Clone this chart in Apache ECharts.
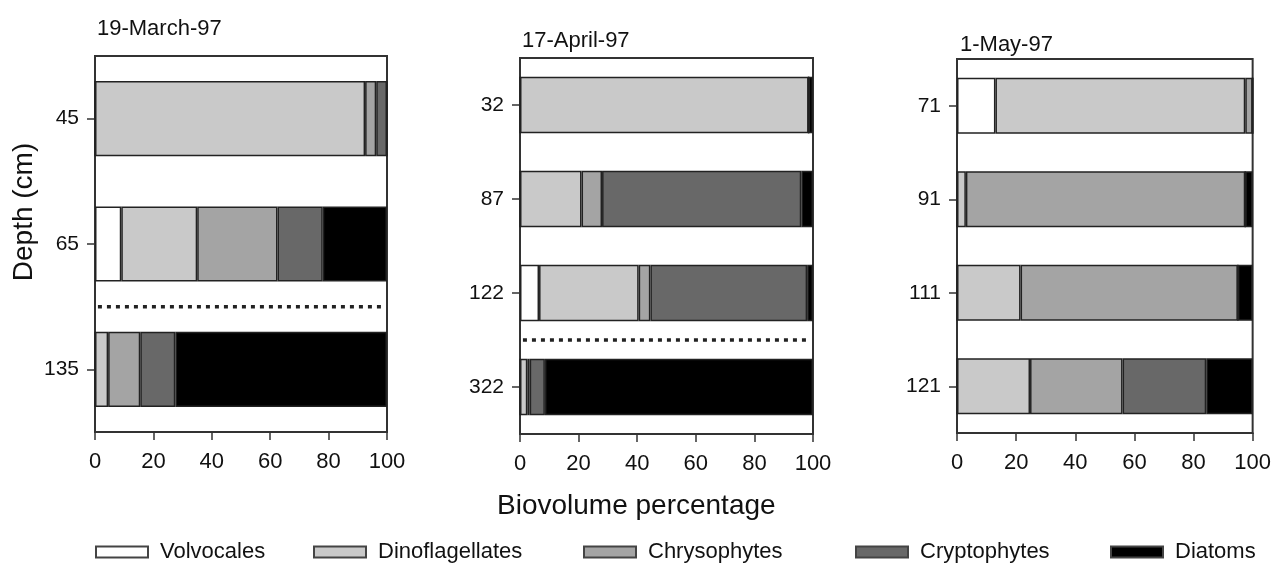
<!DOCTYPE html>
<html>
<head>
<meta charset="utf-8">
<script src="https://cdn.jsdelivr.net/npm/echarts@6/dist/echarts.min.js"></script>
<style>html,body{margin:0;padding:0;background:#fff;}#c{width:1274px;height:563px;}</style>
</head>
<body>
<div id="c"></div>
<script>
// ---- data ----
const taxa = ['Volvocales', 'Dinoflagellates', 'Chrysophytes', 'Cryptophytes', 'Diatoms'];
const dates = ['19-March-97', '17-April-97', '1-May-97'];
const xTicks = [0, 20, 40, 60, 80, 100];

const depths1 = ['45', '65', '135'];
const volvocales1 = [0, 9, 0];
const dinoflagellates1 = [92.5, 26, 4.5];
const chrysophytes1 = [3.8, 27.5, 11];
const cryptophytes1 = [3.7, 15.5, 12];
const diatoms1 = [0, 22, 72.5];

const depths2 = ['32', '87', '122', '322'];
const volvocales2 = [0, 0, 6.5, 0];
const dinoflagellates2 = [98.5, 21, 34, 2.5];
const chrysophytes2 = [0, 7, 4, 0.8];
const cryptophytes2 = [0, 68, 53.5, 5.2];
const diatoms2 = [1.5, 4, 2, 91.5];

const depths3 = ['71', '91', '111', '121'];
const volvocales3 = [13, 0, 0, 0];
const dinoflagellates3 = [84.5, 3, 21.5, 24.7];
const chrysophytes3 = [2.5, 94.5, 73.5, 31.3];
const cryptophytes3 = [0, 0, 0, 28.3];
const diatoms3 = [0, 2.5, 5, 15.7];

// dotted separator: [panel index, boundary position between depth bands]
const separators = [[0, 2], [1, 3]];

// ---- styling / layout ----
const FONT = '"Liberation Sans", Arial, sans-serif';
const taxonColors = ['#ffffff', '#c9c9c9', '#a4a4a4', '#686868', '#000000'];
const grids = [
  { left: 95, top: 56, width: 292, height: 376 },
  { left: 520, top: 58, width: 293, height: 376 },
  { left: 957, top: 59, width: 296, height: 374 }
];
const titlePos = [[97, 18], [522, 30], [960, 34]];
const legendLeft = [95, 313, 583, 855, 1110];

const panels = [
  { depths: depths1, values: [volvocales1, dinoflagellates1, chrysophytes1, cryptophytes1, diatoms1] },
  { depths: depths2, values: [volvocales2, dinoflagellates2, chrysophytes2, cryptophytes2, diatoms2] },
  { depths: depths3, values: [volvocales3, dinoflagellates3, chrysophytes3, cryptophytes3, diatoms3] }
];

const option = {
  backgroundColor: '#ffffff',
  animation: false,
  textStyle: { fontFamily: FONT },
  title: dates.map((d, i) => ({
    text: d, left: titlePos[i][0], top: titlePos[i][1], padding: 0,
    textStyle: { fontFamily: FONT, fontSize: 22, fontWeight: 'normal', color: '#111' }
  })).concat([{
    text: 'Biovolume percentage', left: 497, top: 492, padding: 0,
    textStyle: { fontFamily: FONT, fontSize: 28, fontWeight: 'normal', color: '#111' }
  }]),
  grid: grids.map(g => ({
    left: g.left, top: g.top, width: g.width, height: g.height,
    show: true, backgroundColor: '#ffffff', borderColor: '#333', borderWidth: 2
  })),
  legend: taxa.map((t, i) => ({
    data: [t], left: legendLeft[i], top: 541, padding: 0,
    itemWidth: 52, itemHeight: 11, icon: 'rect',
    itemStyle: { borderColor: '#444', borderWidth: 2 },
    selectedMode: false,
    textStyle: { fontFamily: FONT, fontSize: 22, color: '#111', padding: [0, 0, 0, 7] }
  })),
  xAxis: grids.map((g, i) => ({
    type: 'value', gridIndex: i, position: 'bottom',
    min: xTicks[0], max: xTicks[xTicks.length - 1],
    interval: xTicks[1] - xTicks[0],
    splitLine: { show: false },
    axisLine: { show: true, onZero: false, lineStyle: { color: '#333', width: 2 } },
    axisTick: { show: true, inside: false, length: 8, lineStyle: { color: '#333', width: 1.5 } },
    axisLabel: { fontFamily: FONT, fontSize: 22, color: '#111', margin: 19 }
  })),
  yAxis: panels.map((p, i) => ({
    type: 'category', gridIndex: i, data: p.depths, inverse: true, position: 'left',
    axisLine: { show: true, onZero: false, lineStyle: { color: '#333', width: 2 } },
    axisTick: { show: true, alignWithLabel: true, length: 8, lineStyle: { color: '#333', width: 1.5 } },
    axisLabel: { fontFamily: FONT, fontSize: 21, color: '#111', margin: 16 }
  })).concat(panels.map((p, i) => ({
    type: 'value', gridIndex: i, min: 0, max: p.depths.length, inverse: true, show: false,
    position: 'right', axisLine: { onZero: false }
  }))),
  graphic: [{
    type: 'text', x: 24, y: 212, rotation: Math.PI / 2,
    style: { text: 'Depth (cm)', font: '28px ' + FONT, fill: '#111', textAlign: 'center', textVerticalAlign: 'middle' }
  }],
  series: []
};

panels.forEach((p, pi) => {
  taxa.forEach((t, ti) => {
    option.series.push({
      type: 'bar', name: t, xAxisIndex: pi, yAxisIndex: pi, stack: 'panel' + pi,
      barWidth: '60%',
      data: p.values[ti],
      itemStyle: { color: taxonColors[ti], borderColor: '#222', borderWidth: 1.5 },
      emphasis: { disabled: true }
    });
  });
});

separators.forEach(([pi, pos]) => {
  option.series.push({
    type: 'line', name: 'separator' + pi, xAxisIndex: pi, yAxisIndex: 3 + pi,
    data: [[1, pos], [99, pos]], symbol: 'none', silent: true,
    lineStyle: { color: '#222', width: 3.5, type: [4, 5] }
  });
});

const chart = echarts.init(document.getElementById('c'), null, { renderer: 'canvas' });
chart.setOption(option);
</script>
</body>
</html>
